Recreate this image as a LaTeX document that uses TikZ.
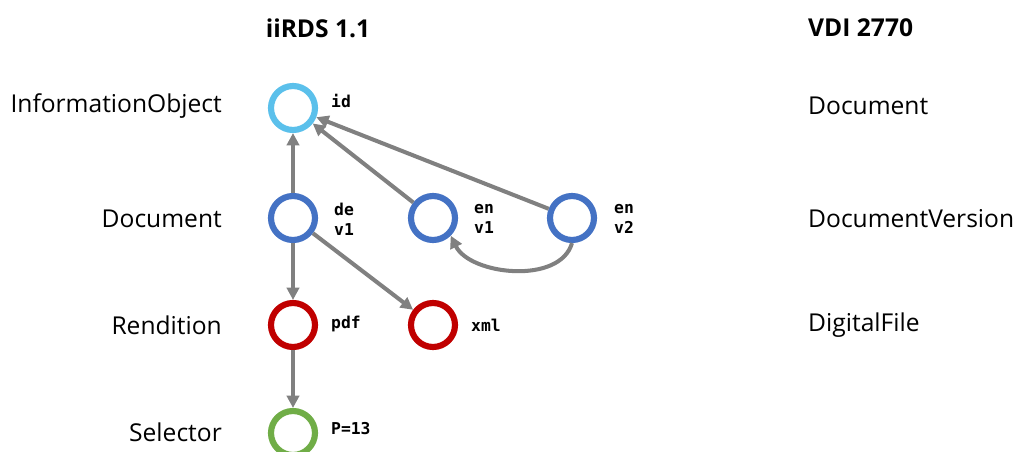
\documentclass[tikz,border=0pt]{standalone}
\usepackage{fontspec}
\setmainfont{Open Sans}
\setmonofont{DejaVu Sans Mono}
\usetikzlibrary{arrows.meta}

\definecolor{ObjBlue}{RGB}{91,192,235}
\definecolor{DocBlue}{RGB}{68,114,196}
\definecolor{RendRed}{RGB}{192,0,0}
\definecolor{SelGreen}{RGB}{112,173,71}
\definecolor{LinkGray}{RGB}{128,128,128}

\begin{document}
\begin{tikzpicture}[x=0.02cm, y=-0.02cm,
    ring/.style={circle, draw=#1, line width=3.5pt, minimum size=0.88cm, inner sep=0pt},
    tag/.style={font=\ttfamily\bfseries\fontsize{9.3}{11.5}\selectfont, anchor=west, align=left},
    level/.style={font=\fontsize{14}{16}\selectfont},
    head/.style={font=\bfseries\fontsize{14}{16}\selectfont},
    link/.style={draw=LinkGray, line width=2.3pt, -{Triangle[length=7pt,width=7pt]}}]
\useasboundingbox (0, 0) rectangle (1015, 452);
\node[head] (HeadIirds) at (318, 28) {iiRDS 1.1};
\node[head, anchor=west] (HeadVdi) at (802, 28) {VDI 2770};
    \node[level, anchor=east] (LvlObj) at (228, 106) {InformationObject};
    \node[level, anchor=east] (LvlDoc) at (228, 219) {Document};
    \node[level, anchor=east] (LvlRend) at (228, 325) {Rendition};
    \node[level, anchor=east] (LvlSel) at (228, 432) {Selector};
    \node[level, anchor=west] (VdiDoc) at (802, 106) {Document};
    \node[level, anchor=west] (VdiVer) at (802, 219) {DocumentVersion};
    \node[level, anchor=west] (VdiFile) at (802, 325) {DigitalFile};
\node[ring=ObjBlue] (InfoObj) at (293, 108) {};
\node[ring=DocBlue] (DocDe) at (293, 218) {};
\node[ring=DocBlue] (DocEnA) at (433, 218) {};
\node[ring=DocBlue] (DocEnB) at (572, 218) {};
\node[ring=RendRed] (RendPdf) at (293, 325) {};
\node[ring=RendRed] (RendXml) at (433, 325) {};
\node[ring=SelGreen] (SelPage) at (293, 433) {};
    \node[tag] (TagId) at (325, 101) {id};
    \node[tag] (TagDe) at (328, 219) {de\\v1};
    \node[tag] (TagEnA) at (468, 219) {en\\v1};
    \node[tag] (TagEnB) at (608, 219) {en\\v2};
    \node[tag] (TagPdf) at (325, 324) {pdf};
    \node[tag] (TagXml) at (465, 325) {xml};
    \node[tag] (TagPage) at (325, 429) {P=13};
\draw[link] (DocDe) -- (InfoObj);
\draw[link] (DocEnA) -- (InfoObj);
\draw[link] (DocEnB) -- (InfoObj);
\draw[link] (DocDe) -- (RendPdf);
\draw[link] (DocDe) -- (RendXml);
\draw[link] (RendPdf) -- (SelPage);
\draw[link] (DocEnB.south) .. controls (560, 285) and (470, 275) .. (DocEnA.south east);
\end{tikzpicture}
\end{document}
